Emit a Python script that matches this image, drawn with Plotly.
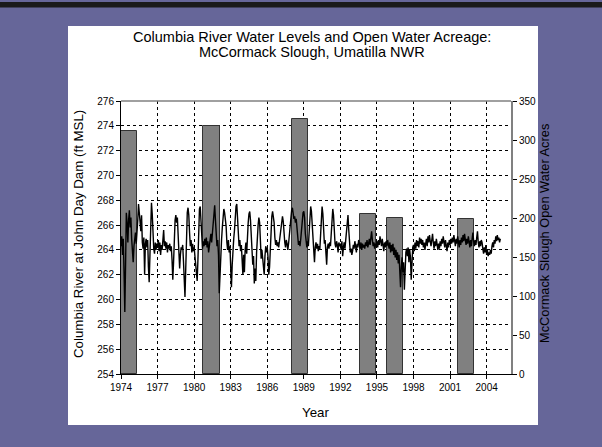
import plotly.graph_objects as go

# ---------------- data ----------------
survey_year = [1974.68, 1981.43, 1988.66, 1994.28, 1996.48, 2002.31]
open_water_acres = [312, 318, 327, 205, 200, 199]

level_start_year = 1974.0
level_samples_per_year = 16
level_ft = [
    # 1974
    264.3, 265.1, 263.6, 264.9, 262.2, 259.0, 262.8, 267.0, 266.2, 264.6, 266.4, 267.2, 265.8, 266.6, 264.9, 263.4,
    # 1975
    263.0, 264.3, 264.8, 265.4, 264.5, 265.3, 266.4, 267.7, 267.2, 266.3, 265.5, 266.8, 264.6, 264.1, 265.0, 262.0,
    # 1976
    264.5, 264.9, 264.2, 264.8, 262.6, 261.4, 263.6, 266.4, 267.8, 266.9, 265.2, 264.1, 263.7, 264.6, 264.0, 264.5,
    # 1977
    264.2, 264.8, 263.9, 264.6, 263.6, 264.4, 264.0, 264.9, 265.6, 264.3, 264.7, 264.1, 264.6, 263.8, 264.4, 264.1,
    # 1978
    264.5, 263.9, 264.3, 263.2, 261.6, 263.0, 265.2, 266.4, 266.8, 266.2, 266.6, 265.0, 264.0, 262.5, 263.6, 264.2,
    # 1979
    264.0, 264.4, 263.1, 261.8, 260.2, 262.5, 265.8, 267.0, 267.4, 266.8, 265.4, 264.3, 264.8, 263.8, 264.5, 263.9,
    # 1980
    264.2, 263.5, 263.0, 262.6, 261.5, 263.2, 265.7, 267.3, 267.5, 266.6, 265.2, 264.1, 264.7, 264.3, 264.9, 264.4,
    # 1981
    265.0, 264.2, 264.7, 263.8, 264.3, 264.9, 265.3, 264.6, 265.6, 266.6, 267.0, 267.6, 266.4, 265.2, 264.3, 264.8,
    # 1982
    263.6, 260.5, 262.4, 263.9, 264.8, 265.8, 266.6, 267.3, 267.0, 266.4, 265.9, 264.6, 264.0, 264.8, 263.8, 264.3,
    # 1983
    262.2, 261.0, 262.8, 264.2, 264.9, 265.6, 266.9, 267.5, 267.7, 266.8, 265.4, 264.3, 264.8, 263.9, 264.4, 262.6,
    # 1984
    262.0, 263.6, 262.2, 264.0, 264.6, 263.7, 265.4, 266.2, 266.9, 267.1, 266.4, 265.2, 264.0, 262.8, 263.5, 261.3,
    # 1985
    262.5, 261.5, 263.8, 265.2, 266.0, 266.6, 266.2, 264.8, 263.3, 264.0, 263.1, 262.4, 262.0, 263.5, 264.3, 263.8,
    # 1986
    264.2, 263.4, 262.0, 262.6, 264.2, 265.6, 266.7, 267.1, 266.8, 266.2, 265.0, 264.4, 264.8, 264.3, 264.6, 264.2,
    # 1987
    264.7, 265.3, 265.9, 266.4, 266.7, 266.3, 265.1, 264.6, 264.2, 264.8, 264.5, 264.0, 264.5, 265.3, 266.2, 266.9,
    # 1988
    267.2, 267.4, 266.9, 266.5, 266.7, 266.2, 266.5, 265.8, 264.9, 264.4, 264.7, 264.3, 264.9, 265.6, 266.5, 267.0,
    # 1989
    267.1, 266.6, 265.3, 264.6, 264.2, 264.7, 264.3, 265.4, 266.6, 267.5, 267.1, 265.8, 264.5, 264.0, 263.0, 264.2,
    # 1990
    264.6, 264.1, 264.5, 263.9, 264.3, 264.0, 265.4, 266.8, 267.5, 266.9, 265.6, 264.5, 264.8, 263.6, 262.8, 264.2,
    # 1991
    264.5, 264.1, 264.6, 264.3, 265.2, 266.6, 267.3, 266.8, 265.4, 264.5, 264.2, 264.7, 264.4, 263.8, 264.6, 264.3,
    # 1992
    264.5, 264.0, 264.7, 263.5, 264.2, 264.6, 264.1, 264.8, 265.3, 266.3, 266.8, 265.6, 264.3, 263.8, 264.1, 263.6,
    # 1993
    263.9, 264.4, 264.1, 264.7, 264.3, 263.8, 264.5, 264.2, 264.8, 264.4, 264.1, 264.6, 264.0, 264.5, 264.2, 264.4,
    # 1994
    264.1, 264.6, 264.3, 264.8, 264.2, 264.5, 264.9, 264.4, 265.0, 265.5, 264.8, 264.3, 264.6, 264.1, 264.5, 264.3,
    # 1995
    264.7, 264.2, 264.8, 264.4, 265.1, 264.6, 264.3, 264.9, 264.5, 263.9, 264.6, 264.2, 264.7, 264.3, 264.8, 264.4,
    # 1996
    264.1, 264.6, 263.8, 264.4, 263.9, 264.5, 263.6, 264.2, 263.4, 264.0, 263.2, 263.8, 262.9, 263.6, 262.4, 261.0,
    # 1997
    262.6, 263.4, 262.2, 263.0, 260.8, 262.5, 263.8, 264.1, 263.5, 264.2, 263.0, 264.0, 263.4, 261.6, 263.6, 264.2,
    # 1998
    264.4, 263.9, 264.6, 264.1, 264.8, 264.3, 264.7, 264.2, 265.0, 264.5, 264.9, 264.4, 264.8, 264.2, 264.6, 264.0,
    # 1999
    264.5, 264.9, 264.3, 265.1, 264.6, 265.2, 264.7, 264.3, 264.8, 265.3, 264.6, 264.1, 264.7, 264.3, 264.9, 264.4,
    # 2000
    264.0, 264.5, 264.1, 264.7, 264.3, 264.9, 264.5, 265.1, 264.6, 264.2, 264.8, 264.4, 263.9, 264.6, 264.2, 264.8,
    # 2001
    264.4, 264.9, 264.5, 265.0, 264.6, 265.2, 264.7, 264.3, 264.9, 264.5, 265.1, 264.6, 264.2, 264.8, 264.4, 265.0,
    # 2002
    264.6, 265.2, 264.7, 265.3, 264.8, 264.4, 264.9, 264.5, 265.1, 264.6, 264.2, 264.8, 264.3, 264.9, 265.4, 264.7,
    # 2003
    264.3, 264.8, 264.4, 265.0, 265.5, 264.6, 264.2, 264.7, 264.3, 264.8, 264.6, 264.1, 263.7, 264.2, 263.8, 264.4,
    # 2004
    263.6, 264.0, 263.5, 263.8, 263.6, 264.0, 263.7, 264.3, 264.6, 264.2, 264.8, 264.5, 265.1, 264.7, 265.2, 264.8,
    # 2005
    265.0, 264.6, 264.9,
]

x_tick_years = [1974, 1977, 1980, 1983, 1986, 1989, 1992, 1995, 1998, 2001, 2004]
left_ticks = [254, 256, 258, 260, 262, 264, 266, 268, 270, 272, 274, 276]
right_ticks = [0, 50, 100, 150, 200, 250, 300, 350]

title_lines = ["Columbia River Water Levels and Open Water Acreage:",
               "McCormack Slough, Umatilla NWR"]
left_title = "Columbia River at John Day Dam (ft MSL)"
right_title = "McCormack Slough Open Water Acres"
x_title = "Year"

level_year = [level_start_year + i / level_samples_per_year for i in range(len(level_ft))]

# ---------------- geometry (pixels) ----------------
W, H = 602, 447
L, R, T, B = 121, 511, 101, 374
PW, PH = R - L, B - T


def px_x(p):
    return (p - L) / PW


def px_y(p):
    return (B - p) / PH


FONT = "Arial, Liberation Sans, sans-serif"

fig = go.Figure()

fig.add_trace(go.Bar(
    x=survey_year, y=open_water_acres, yaxis="y", xaxis="x",
    width=1.34,
    marker=dict(color="#808080", line=dict(color="#333333", width=1)),
    showlegend=False,
))

fig.add_trace(go.Scatter(
    x=level_year, y=level_ft, yaxis="y2", xaxis="x",
    mode="lines", line=dict(color="black", width=1.4),
    showlegend=False,
))

annotations = [
    dict(text=title_lines[0], xref="paper", yref="paper", x=px_x(311.7), y=px_y(37),
         showarrow=False, xanchor="center", yanchor="middle",
         font=dict(family=FONT, size=14.5, color="black")),
    dict(text=title_lines[1], xref="paper", yref="paper", x=px_x(311.7), y=px_y(52.5),
         showarrow=False, xanchor="center", yanchor="middle",
         font=dict(family=FONT, size=14.5, color="black")),
    dict(text=left_title, xref="paper", yref="paper", x=px_x(78), y=px_y(234),
         textangle=-90, showarrow=False, xanchor="center", yanchor="middle",
         font=dict(family=FONT, size=13.3, color="black")),
    dict(text=right_title, xref="paper", yref="paper", x=px_x(544), y=px_y(234),
         textangle=-90, showarrow=False, xanchor="center", yanchor="middle",
         font=dict(family=FONT, size=12.8, color="black")),
    dict(text=x_title, xref="paper", yref="paper", x=px_x(315), y=px_y(412),
         showarrow=False, xanchor="center", yanchor="middle",
         font=dict(family=FONT, size=13.3, color="black")),
]

fig.update_layout(
    width=W, height=H, autosize=False,
    margin=dict(l=L, r=W - R, t=T, b=H - B, pad=0),
    paper_bgcolor="#666699",
    plot_bgcolor="white",
    font=dict(family=FONT, color="black", size=10),
    bargap=0,
    xaxis=dict(range=[1974, 2006], tickmode="array", tickvals=x_tick_years,
               ticktext=[str(v) for v in x_tick_years],
               ticks="outside", ticklen=4, tickcolor="black",
               showline=True, linecolor="black", linewidth=1,
               showgrid=True, gridcolor="black", griddash="dot", gridwidth=1,
               zeroline=False, tickfont=dict(size=10)),
    yaxis=dict(range=[0, 350], side="right", tickmode="array", tickvals=right_ticks,
               ticks="outside", ticklen=4, tickcolor="black",
               showline=True, linecolor="#808080", linewidth=2,
               showgrid=False, zeroline=False, tickfont=dict(size=10)),
    yaxis2=dict(range=[254, 276], side="left", overlaying="y", anchor="x",
                tickmode="array", tickvals=left_ticks,
                ticks="outside", ticklen=4, tickcolor="black",
                showline=True, linecolor="black", linewidth=1,
                showgrid=True, gridcolor="black", griddash="dot", gridwidth=1,
                zeroline=False, tickfont=dict(size=10)),
    shapes=[
        dict(type="rect", xref="paper", yref="paper",
             x0=px_x(68), x1=px_x(538), y0=px_y(425), y1=px_y(26),
             fillcolor="white", line=dict(width=0), layer="below"),
        dict(type="rect", xref="paper", yref="paper",
             x0=px_x(0), x1=px_x(W), y0=px_y(7.5), y1=px_y(2),
             fillcolor="#1a1a1a", line=dict(width=0), layer="below"),
        dict(type="line", xref="paper", yref="paper",
             x0=0, x1=1, y0=1, y1=1,
             line=dict(color="#808080", width=1.5), layer="above"),
    ],
    annotations=annotations,
)

fig.write_html("out.html", config={"displayModeBar": False},
               post_script="document.body.style.margin='0';")
